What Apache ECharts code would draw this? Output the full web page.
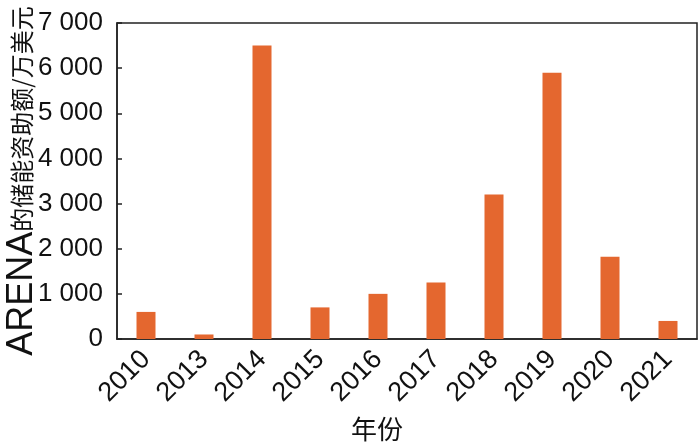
<!DOCTYPE html>
<html>
<head>
<meta charset="utf-8">
<script src="https://cdn.jsdelivr.net/npm/echarts@6/dist/echarts.min.js"></script>
<style>
html,body{margin:0;padding:0;background:#fff;}
#chart{width:700px;height:446px;}
</style>
</head>
<body>
<div id="chart"></div>
<script>
const categories = ['2010','2013','2014','2015','2016','2017','2018','2019','2020','2021'];
const values = [600, 100, 6500, 700, 1000, 1250, 3200, 5900, 1820, 400];
const yTicks = [0, 1000, 2000, 3000, 4000, 5000, 6000, 7000];
const xName = '年份';
const yNameLatin = 'ARENA';
const yNameCJK = '的储能资助额/万美元';

const chart = echarts.init(document.getElementById('chart'), null, {renderer: 'canvas'});
const axisColor = '#222';
const textColor = '#111';
chart.setOption({
  animation: false,
  backgroundColor: '#fff',
  grid: {left: 117, right: 3, top: 23, bottom: 107, containLabel: false, outerBoundsMode: 'none', show: true, borderColor: axisColor, borderWidth: 1.5, backgroundColor: 'transparent'},
  xAxis: {
    type: 'category',
    data: categories,
    name: xName,
    nameLocation: 'middle',
    nameGap: 77,
    nameMoveOverlap: false,
    nameTextStyle: {fontSize: 26, color: textColor, fontFamily: 'Noto Sans CJK SC', padding: [0, 60, 0, 0]},
    axisLine: {lineStyle: {color: axisColor, width: 1.5}},
    axisTick: {inside: true, length: 5, lineStyle: {color: axisColor, width: 1.5}},
    axisLabel: {rotate: 45, fontSize: 27, color: textColor, fontFamily: 'Liberation Sans', margin: 16, interval: 0}
  },
  yAxis: {
    type: 'value',
    min: yTicks[0],
    max: yTicks[yTicks.length - 1],
    interval: 1000,
    name: '{a|' + yNameLatin + '}{b|' + yNameCJK + '}',
    nameLocation: 'middle',
    nameRotate: 90,
    nameGap: 77,
    nameMoveOverlap: false,
    nameTextStyle: {
      color: textColor,
      rich: {
        a: {fontSize: 36, fontFamily: 'Liberation Sans', color: textColor},
        b: {fontSize: 24, fontFamily: 'Noto Sans CJK SC', color: textColor}
      }
    },
    splitLine: {show: false},
    axisLine: {show: true, lineStyle: {color: axisColor, width: 1.5}},
    axisTick: {show: true, inside: true, length: 5, lineStyle: {color: axisColor, width: 1.5}},
    axisLabel: {
      fontSize: 26, color: textColor, fontFamily: 'Liberation Sans', margin: 14,
      formatter: v => String(v).replace(/\B(?=(\d{3})+(?!\d))/g, ' ')
    }
  },
  series: [{
    type: 'bar',
    data: values,
    barWidth: 19,
    itemStyle: {color: '#E4672F'}
  }]
});
</script>
</body>
</html>
